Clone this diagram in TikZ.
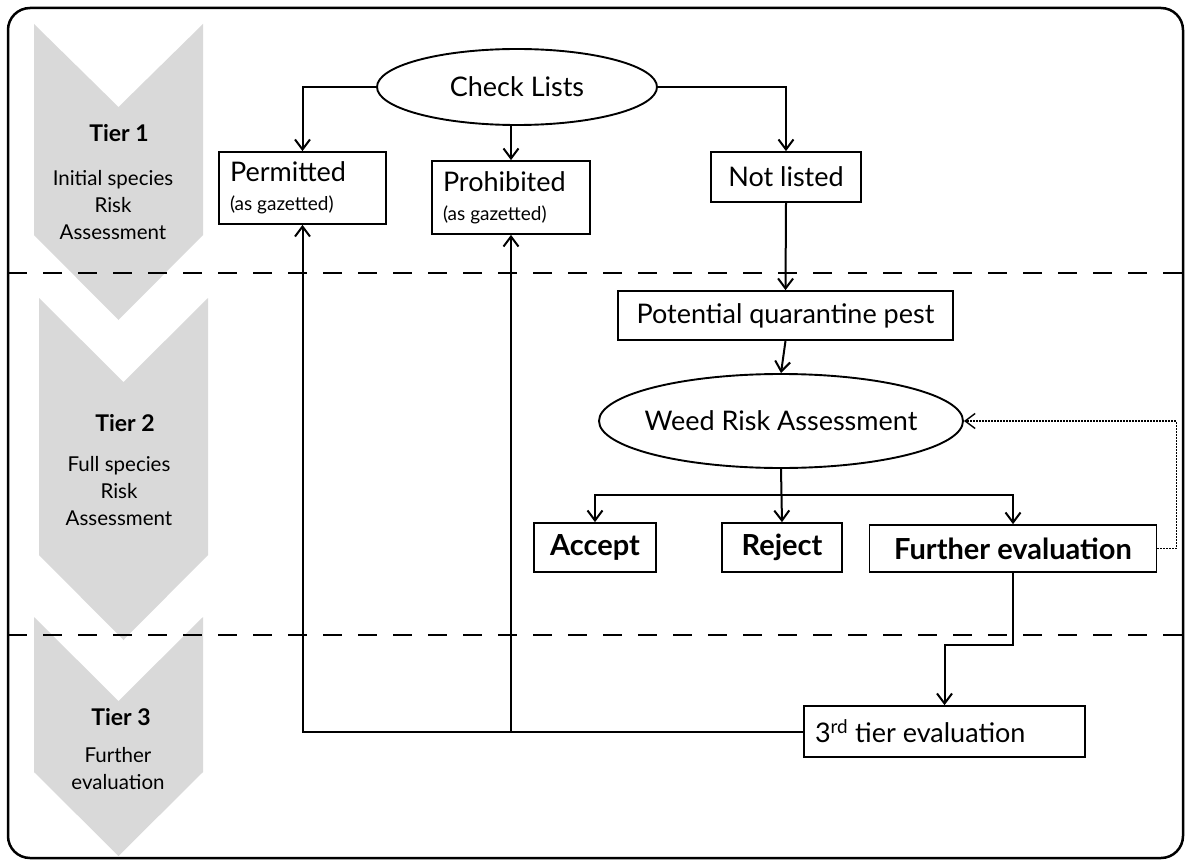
\documentclass[tikz,border=0pt]{standalone}
\usepackage{fontspec}
\setmainfont{Lato}
\usetikzlibrary{arrows.meta,shapes.geometric}

\definecolor{chevgray}{RGB}{217,217,217}

\tikzset{
  box/.style={draw, line width=1.7pt, inner sep=4pt, font=\fontsize{27}{32}\selectfont},
  oval/.style={draw, ellipse, line width=1.9pt, inner sep=0pt, font=\fontsize{27}{32}\selectfont},
  boldbox/.style={box, font=\fontsize{29}{32}\selectfont\bfseries},
  tierhead/.style={font=\fontsize{23}{26}\selectfont\bfseries},
  tiertext/.style={align=center, font=\fontsize{20.5}{27}\selectfont},
  arr/.style={-{Straight Barb[length=10pt,width=15pt]}, line width=2pt},
  tierline/.style={line width=2.4pt, dash pattern=on 19pt off 16pt},
}

\begin{document}
\begin{tikzpicture}[x=1pt,y=-1pt]
  \useasboundingbox (0,0) rectangle (1186,861);
  \draw[line width=2.5pt, rounded corners=22pt] (8,8) rectangle (1183,858);

  % tier chevrons
  \fill[chevgray] (34,24) -- (118.5,107) -- (203,24) -- (203,235) -- (118.5,320) -- (34,235) -- cycle;
  \fill[chevgray] (39,298) -- (123.5,382) -- (208,298) -- (208,555) -- (123.5,640) -- (39,555) -- cycle;
  \fill[chevgray] (34,617) -- (118.5,701) -- (203,617) -- (203,772) -- (118.5,856) -- (34,772) -- cycle;

  \node[tierhead] (head1) at (119,133) {Tier 1};
  \node[tiertext] (text1) at (113,205) {Initial species\\Risk\\Assessment};
  \node[tierhead] (head2) at (125,423) {Tier 2};
  \node[tiertext] (text2) at (119,491) {Full species\\Risk\\Assessment};
  \node[tierhead] (head3) at (121,717) {Tier 3};
  \node[tiertext] (text3) at (118,769) {Further\\evaluation};

  \draw[tierline] (8,273) -- (1186,273);
  \draw[tierline] (8,635) -- (1186,635);

  % flow nodes
  \node[oval, minimum width=280pt, minimum height=76pt] (check) at (517,87) {Check Lists};
  \node[box, inner xsep=11pt, minimum height=72pt, text width=145pt, align=flush left] (permit) at (302.5,188)
    {Permitted\\[-3pt]{\fontsize{19}{22}\selectfont(as gazetted)}};
  \node[box, inner xsep=11pt, minimum height=73pt, text width=136pt, align=flush left] (prohib) at (511,197.5)
    {Prohibited\\[-3pt]{\fontsize{19}{22}\selectfont(as gazetted)}};
  \node[box, minimum width=150pt, minimum height=50pt] (notlisted) at (786,177) {Not listed};
  \node[box, minimum width=335pt, minimum height=49pt] (pest) at (785.5,315.5) {Potential quarantine pest};
  \node[oval, inner xsep=-8pt, minimum width=364pt, minimum height=94pt] (wra) at (781,421) {Weed Risk Assessment};
  \node[boldbox, minimum width=122pt, minimum height=49pt] (accept) at (595,547.5) {Accept};
  \node[boldbox, minimum width=120pt, minimum height=49pt] (reject) at (782,547.5) {Reject};
  \node[boldbox, minimum width=287pt, minimum height=47pt] (further) at (1013,548.5) {Further evaluation};
  \node[box, inner xsep=11pt, minimum height=51pt, text width=259pt, align=flush left] (third) at (944.5,731.5)
    {3\textsuperscript{rd} tier evaluation};

  \coordinate (split) at (781,495);
  \coordinate (jog) at (1013,645);

  % connectors
  \begin{scope}[arr]
    \draw (check.west) -| (permit.north);
    \draw (prohib.north |- check.south) -- (prohib.north);
    \draw (check.east) -| (notlisted.north);
    \draw (notlisted.south) -- (pest.north);
    \draw (pest.south) -- (wra.north);
    \draw (wra.south) -- (reject.north);
    \draw (split) -| (accept.north);
    \draw (split) -| (further.north);
    \draw (further.south) -- (jog) -| (third.north);
    \draw (third.west) -| (permit.south);
    \draw (third.west) -| (prohib.south);
    \draw[line width=1.4pt, dash pattern=on 1.5pt off 1.5pt] (further.east) -- ++(19,0) |- (wra.east);
  \end{scope}
\end{tikzpicture}
\end{document}
